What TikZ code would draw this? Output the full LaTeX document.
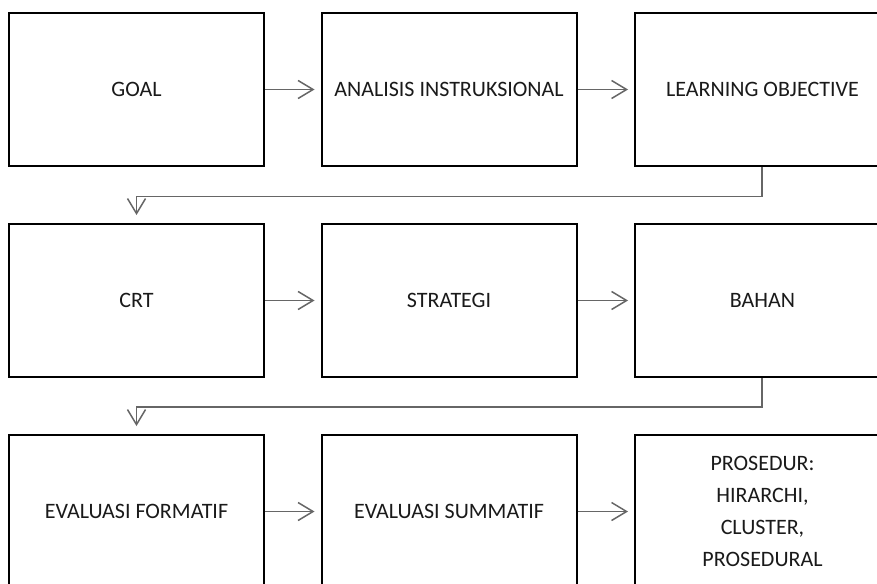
\documentclass[tikz,border=0pt]{standalone}
\usepackage{fontspec}
\setmainfont{Carlito}
\usetikzlibrary{arrows.meta}
\definecolor{txtc}{HTML}{1A1A1A}
\definecolor{linec}{HTML}{666666}
\begin{document}
\begin{tikzpicture}[x=1pt,y=-1pt,
  box/.style={draw=black,line width=2pt,minimum width=255pt,minimum height=153pt,inner sep=0pt,text=txtc,font=\fontsize{22}{32}\selectfont,align=center},
  conn/.style={draw=linec,line width=1.5pt,-{Straight Barb[length=15pt,width=18pt,line width=1.5pt]}},
  hconn/.style={conn,shorten >=6pt}]
\useasboundingbox (0,0) rectangle (877,583);
\fill[white] (0,0) rectangle (877,583);
\node[box] (goal) at (136.5,89.5) {GOAL};
\node[box] (ai) at (449,89.5) {ANALISIS INSTRUKSIONAL};
\node[box] (lo) at (762.5,89.5) {LEARNING OBJECTIVE};
\node[box] (crt) at (136.5,300.5) {CRT};
\node[box] (str) at (449,300.5) {STRATEGI};
\node[box] (bah) at (762.5,300.5) {BAHAN};
\node[box] (ef) at (136.5,511.5) {EVALUASI FORMATIF};
\node[box] (es) at (449,511.5) {EVALUASI SUMMATIF};
\node[box] (pro) at (762.5,511.5) {PROSEDUR:\\HIRARCHI,\\CLUSTER,\\PROSEDURAL};
\coordinate (c1) at (762,196.5);
\coordinate (c2) at (136.5,196.5);
\coordinate (c3) at (762,407);
\coordinate (c4) at (136.5,407);
\draw[hconn] (goal.east) -- (ai.west);
\draw[hconn] (ai.east) -- (lo.west);
\draw[hconn] (crt.east) -- (str.west);
\draw[hconn] (str.east) -- (bah.west);
\draw[hconn] (ef.east) -- (es.west);
\draw[hconn] (es.east) -- (pro.west);
\draw[conn,shorten >=8pt] (lo.south -| c1) -- (c1) -- (c2) -- (crt.north);
\draw[conn,shorten >=8pt] (bah.south -| c3) -- (c3) -- (c4) -- (ef.north);
\end{tikzpicture}
\end{document}
